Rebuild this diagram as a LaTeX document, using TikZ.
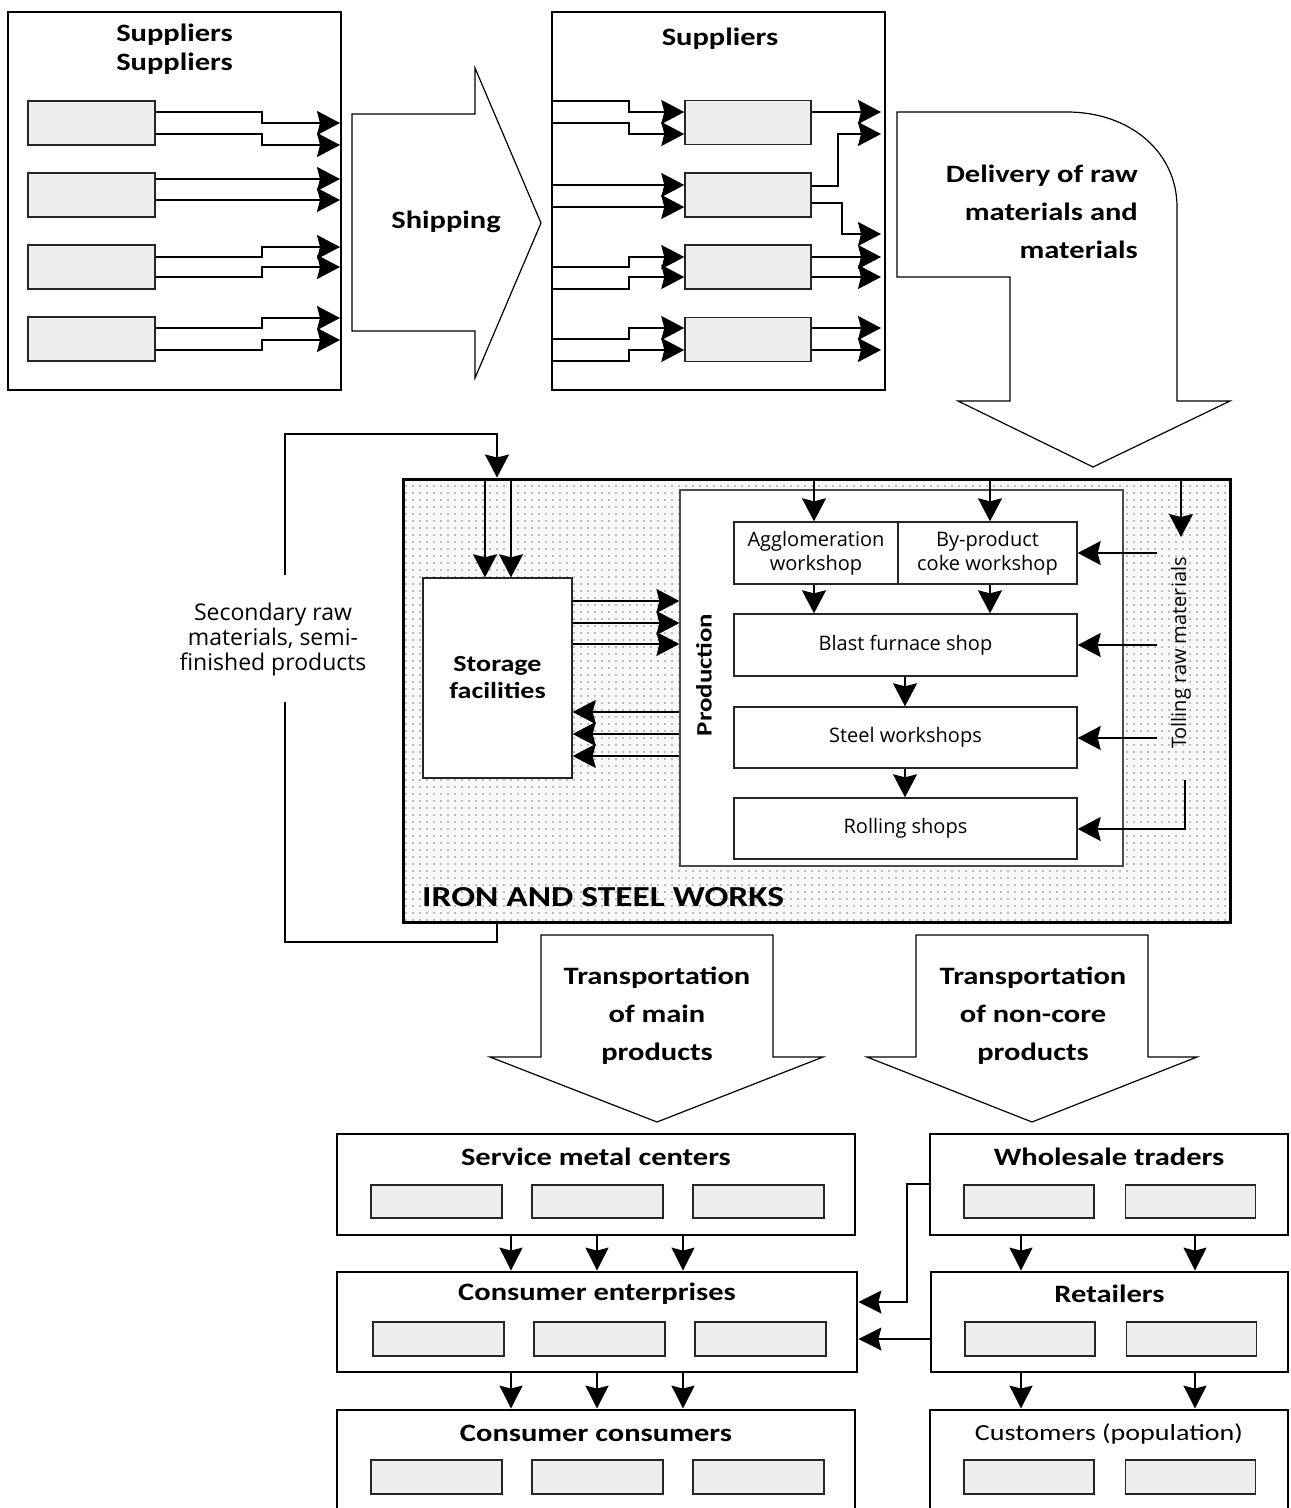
\documentclass[tikz,border=0pt]{standalone}
\usepackage{fontspec}
\setmainfont{Carlito}
\newfontfamily\bfam[FakeStretch=1.22]{Carlito}
\newfontfamily\sfam{Open Sans}
\usetikzlibrary{arrows.meta,patterns.meta,calc}
\tikzset{
  big/.style={draw=black, line width=2.8pt, fill=white, inner sep=0pt},
  gb/.style={draw=black!85, line width=1.4pt, fill=gray!13, inner sep=0pt},
  wb/.style={draw=black!85, line width=1.4pt, fill=white, inner sep=0pt, align=center, font=\sfam\fontsize{20}{24}\selectfont},
  ln/.style={line width=1.8pt, draw=black},
  ar/.style={ln, -{Stealth[length=23pt,width=24pt,inset=3pt]}},
  ar2/.style={ln, -{Stealth[length=23pt,width=23pt,inset=3pt]}},
  ttl/.style={font=\bfam\bfseries\fontsize{25}{38}\selectfont, align=center, inner sep=0pt},
  fat/.style={draw=black, line width=1.2pt, fill=white, line join=miter},
}
\begin{document}
\begin{tikzpicture}[x=1pt,y=-1pt]
\useasboundingbox (0,0) rectangle (1291,1508);
\clip (0,0) rectangle (1291,1508);

% ---------- top left suppliers ----------
\node[big, minimum width=333pt, minimum height=378pt] (SL) at (174.5,201) {};
\node[ttl, font=\bfam\bfseries\fontsize{25}{29}\selectfont] (SLt) at (174.5,49) {Suppliers\\Suppliers};
\foreach \i/\y in {1/123,2/195,3/267,4/339}
  \node[gb, minimum width=127pt, minimum height=44pt] (L\i) at (91.5,\y) {};
\draw[ar] ([yshift=11pt]L1.east) -- (262,112) -- (262,123) -- (340,123);
\draw[ar] ([yshift=-11pt]L1.east) -- (262,134) -- (262,145) -- (340,145);
\draw[ar] ([yshift=16pt]L2.east) -- (340,179);
\draw[ar] ([yshift=-5pt]L2.east) -- (340,200);
\draw[ar] ([yshift=10pt]L3.east) -- (262,257) -- (262,247) -- (340,247);
\draw[ar] ([yshift=-10pt]L3.east) -- (262,277) -- (262,267) -- (340,267);
\draw[ar] ([yshift=11pt]L4.east) -- (262,328) -- (262,318) -- (340,318);
\draw[ar] ([yshift=-11pt]L4.east) -- (262,350) -- (262,340) -- (340,340);

% ---------- shipping arrow ----------
\draw[fat] (352,114) -- (475,114) -- (475,68) -- (541,223) -- (475,378) -- (475,331) -- (352,331) -- cycle;
\node[ttl] (SHIP) at (446,222) {Shipping};

% ---------- top right suppliers ----------
\node[big, minimum width=333pt, minimum height=378pt] (SR) at (718.5,201) {};
\node[ttl] (SRt) at (720,39) {Suppliers};
\foreach \i/\y in {1/122.5,2/195,3/267,4/339.5}
  \node[gb, minimum width=126pt, minimum height=44pt] (R\i) at (748,\y) {};
% incoming
\draw[ar] (SR.west |- 0,101) -- (629,101) -- (629,112) -- (R1.west |- 0,112);
\draw[ar] (SR.west |- 0,123) -- (629,123) -- (629,134) -- (R1.west |- 0,134);
\draw[ar] (SR.west |- 0,185) -- (R2.west |- 0,185);
\draw[ar] (SR.west |- 0,207) -- (R2.west |- 0,207);
\draw[ar] (SR.west |- 0,267) -- (629,267) -- (629,257) -- (R3.west |- 0,257);
\draw[ar] (SR.west |- 0,289) -- (629,289) -- (629,277) -- (R3.west |- 0,277);
\draw[ar] (SR.west |- 0,339) -- (629,339) -- (629,328) -- (R4.west |- 0,328);
\draw[ar] (SR.west |- 0,361) -- (629,361) -- (629,350) -- (R4.west |- 0,350);
% outgoing
\draw[ar] (R1.east |- 0,112) -- (881,112);
\draw[ar] (R2.east |- 0,186) -- (838,186) -- (838,134) -- (881,134);
\draw[ar] (R2.east |- 0,203) -- (842,203) -- (842,234) -- (881,234);
\draw[ar] (R3.east |- 0,257) -- (881,257);
\draw[ar] (R3.east |- 0,277) -- (881,277);
\draw[ar] (R4.east |- 0,328) -- (881,328);
\draw[ar] (R4.east |- 0,350) -- (881,350);

% ---------- delivery arrow ----------
\draw[fat] (897,112) -- (1067,112) .. controls (1130,112) and (1177,152) .. (1177,207)
  -- (1177,401) -- (1230,401) -- (1093,467) -- (958,401) -- (1010,401) -- (1010,277) -- (897,277) -- cycle;
\node[ttl, align=right, anchor=east] (DEL) at (1138,212) {Delivery of raw\\materials and\\materials};

% ---------- iron and steel works ----------
\fill[gray!4] (403,479) rectangle (1230,922);
\fill[pattern={Dots[distance=7pt,radius=0.8pt]}, pattern color=black!50] (403,479) rectangle (1230,922);
\node[draw=black, line width=3pt, minimum width=827pt, minimum height=443pt, inner sep=0pt] (W) at (816.5,700.5) {};
\node[ttl, font=\bfam\bfseries\fontsize{29}{34}\selectfont, anchor=west] (WL) at (422,897) {IRON AND STEEL WORKS};

\node[wb, minimum width=149pt, minimum height=200pt] (ST) at (497.5,678) {};
\node[ttl, font=\bfam\bfseries\fontsize{23}{27}\selectfont] (STt) at (497.5,678) {Storage\\facilities};

\node[draw=black!70, line width=1.2pt, fill=white, minimum width=443pt, minimum height=376pt, inner sep=0pt] (PR) at (901.5,678) {};
\node[ttl, font=\bfam\bfseries\fontsize{22}{26}\selectfont, rotate=90] (PRt) at (704,675) {Production};

\node[wb, minimum width=164pt, minimum height=62pt] (AG) at (816,553) {Agglomeration\\workshop};
\node[wb, minimum width=179pt, minimum height=62pt] (BP) at (987.5,553) {By-product\\coke workshop};
\node[wb, minimum width=343pt, minimum height=62pt] (BF) at (905.5,645) {Blast furnace shop};
\node[wb, minimum width=343pt, minimum height=61pt] (SW) at (905.5,737.5) {Steel workshops};
\node[wb, minimum width=343pt, minimum height=61pt] (RS) at (905.5,828.5) {Rolling shops};
\node[inner sep=0pt, font=\sfam\fontsize{20}{24}\selectfont, rotate=90] (TR) at (1181,653) {Tolling raw materials};

\draw[ar] (W.north -| 814,0) -- (AG.north -| 814,0);
\draw[ar] (W.north -| 990,0) -- (BP.north -| 990,0);
\draw[ar] (AG.south -| 814,0) -- (BF.north -| 814,0);
\draw[ar] (BP.south -| 990,0) -- (BF.north -| 990,0);
\draw[ar] (BF.south -| 905,0) -- (SW.north -| 905,0);
\draw[ar] (SW.south -| 905,0) -- (RS.north -| 905,0);

\draw[ar] (W.north -| 1181,0) -- (1181,537);
\draw[ar] (1157,553) -- (BP.east |- 0,553);
\draw[ar] (1157,645) -- (BF.east |- 0,645);
\draw[ar] (1157,738) -- (SW.east |- 0,738);
\draw[ar] (1185,780) -- (1185,829) -- (RS.east |- 0,829);

\draw[ar] (W.north -| 485,0) -- (ST.north -| 485,0);
\draw[ar] (W.north -| 511,0) -- (ST.north -| 511,0);
\foreach \y in {601,623,644} \draw[ar] (ST.east |- 0,\y) -- (PR.west |- 0,\y);
\foreach \y in {712,734,756} \draw[ar] (PR.west |- 0,\y) -- (ST.east |- 0,\y);

% feedback loop
\coordinate (LB) at (285,702);
\coordinate (LT) at (285,575);
\draw[ln] (W.south -| 497,0) -- (497,942) -- (285,942) -- (LB);
\draw[ar] (LT) -- (285,434) -- (497,434) -- (W.north -| 497,0);
\node[inner sep=0pt, align=center, font=\sfam\fontsize{23}{25}\selectfont] (SEC) at (273,640) {Secondary raw\\materials, semi-\\finished products};

% ---------- transportation arrows ----------
\draw[fat] (541,935) -- (773,935) -- (773,1057) -- (823,1057) -- (657,1122) -- (490,1057) -- (541,1057) -- cycle;
\node[ttl] (T1) at (657,1016) {Transportation\\of main\\products};
\draw[fat] (916,935) -- (1148,935) -- (1148,1057) -- (1197,1057) -- (1032,1122) -- (867,1057) -- (916,1057) -- cycle;
\node[ttl] (T2) at (1033,1016) {Transportation\\of non-core\\products};

% ---------- bottom boxes ----------
\node[big, minimum width=518pt, minimum height=101pt] (SMC) at (596,1184.5) {};
\node[big, minimum width=520pt, minimum height=100pt] (CE) at (597,1322) {};
\node[big, minimum width=518pt, minimum height=110pt] (CC) at (596,1465) {};
\node[big, minimum width=358pt, minimum height=101pt] (WT) at (1109,1184.5) {};
\node[big, minimum width=357pt, minimum height=100pt] (RT) at (1109.5,1322) {};
\node[big, minimum width=358pt, minimum height=110pt] (CU) at (1109,1465) {};

\node[ttl] (SMCt) at (596,1157) {Service metal centers};
\node[ttl] (CEt) at (597,1294) {Consumer enterprises};
\node[ttl] (CCt) at (596,1433) {Consumer consumers};
\node[ttl] (WTt) at (1109,1157) {Wholesale traders};
\node[ttl] (RTt) at (1109.5,1294) {Retailers};
\node[ttl, font=\bfam\fontsize{23}{27}\selectfont] (CUt) at (1109,1434) {Customers (population)};

\foreach \n/\x in {1/436.5,2/597.5,3/758.5} {
  \node[gb, minimum width=131pt, minimum height=33pt] (SMC\n) at (\x,1201.5) {};
  \node[gb, minimum width=131pt, minimum height=34pt] (CE\n) at (\x+2,1339) {};
  \node[gb, minimum width=131pt, minimum height=34pt] (CC\n) at (\x,1477) {};
}
\foreach \n/\x in {1/1029,2/1190.5} {
  \node[gb, minimum width=130pt, minimum height=33pt] (WT\n) at (\x,1201.5) {};
  \node[gb, minimum width=130pt, minimum height=34pt] (RT\n) at (\x+1,1339) {};
  \node[gb, minimum width=130pt, minimum height=34pt] (CU\n) at (\x,1477) {};
}

\foreach \x in {511,597,683} {
  \draw[ar2] (SMC.south -| \x,0) -- (CE.north -| \x,0);
  \draw[ar2] (CE.south -| \x,0) -- (CC.north -| \x,0);
}
\foreach \x in {1021,1195} {
  \draw[ar2] (WT.south -| \x,0) -- (RT.north -| \x,0);
  \draw[ar2] (RT.south -| \x,0) -- (CU.north -| \x,0);
}
\draw[ar2, line width=1.3pt] (WT.west |- 0,1184) -- (907,1184) -- (907,1302) -- (CE.east |- 0,1302);
\draw[ar2, line width=1.3pt] (RT.west |- 0,1339) -- (CE.east |- 0,1339);
\end{tikzpicture}
\end{document}
